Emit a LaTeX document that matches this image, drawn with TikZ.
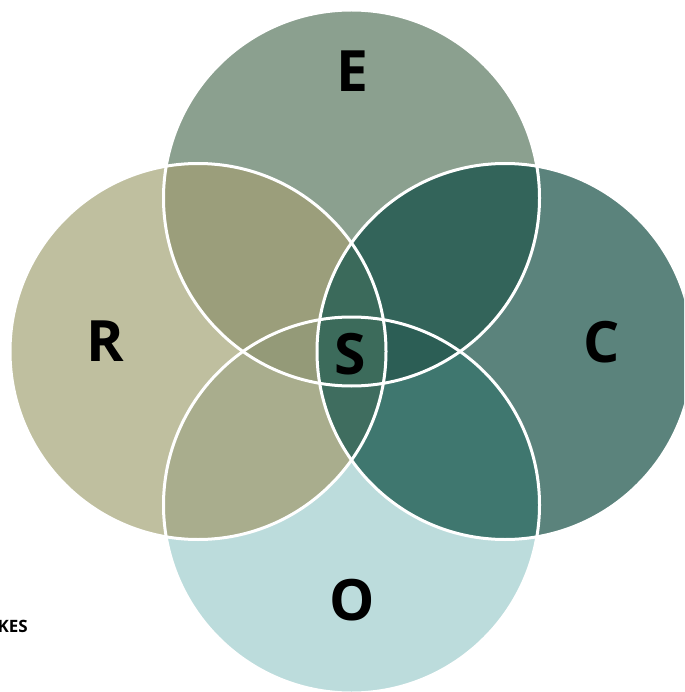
\documentclass[tikz,border=0pt]{standalone}
\usepackage{fontspec}
\setmainfont{Open Sans}
\definecolor{cE}{HTML}{8BA08F}
\definecolor{cR}{HTML}{BFBF9F}
\definecolor{cC}{HTML}{5B837C}
\definecolor{cO}{HTML}{BCDCDC}
\definecolor{cER}{HTML}{9B9E7B}
\definecolor{cEC}{HTML}{33645A}
\definecolor{cRO}{HTML}{A9AD8D}
\definecolor{cCO}{HTML}{3F776F}
\definecolor{cERC}{HTML}{3B6A5B}
\definecolor{cERO}{HTML}{949A78}
\definecolor{cECO}{HTML}{2C5E55}
\definecolor{cRCO}{HTML}{3F6D5F}
\definecolor{cAll}{HTML}{3C6B5B}
\def\pE{(351.5,198) circle (188pt)}
\def\pR{(198,351.5) circle (188pt)}
\def\pC{(505,351.5) circle (188pt)}
\def\pO{(351.5,505) circle (188pt)}
\tikzset{
  big/.style={font=\fontsize{57}{60}\selectfont\bfseries, text=black, inner sep=0pt},
  ring/.style={draw=white, line width=3pt}
}
\begin{document}
\begin{tikzpicture}[x=1pt,y=-1pt]
\useasboundingbox (0,0) rectangle (684,692);
\begin{scope}
\clip (0,0) rectangle (684,692);
\fill[cE] \pE;
\fill[cR] \pR;
\fill[cC] \pC;
\fill[cO] \pO;
\begin{scope}\clip \pE; \fill[cER] \pR; \end{scope}
\begin{scope}\clip \pE; \fill[cEC] \pC; \end{scope}
\begin{scope}\clip \pR; \fill[cRO] \pO; \end{scope}
\begin{scope}\clip \pC; \fill[cCO] \pO; \end{scope}
\begin{scope}\clip \pE; \clip \pR; \fill[cERC] \pC; \end{scope}
\begin{scope}\clip \pE; \clip \pR; \fill[cERO] \pO; \end{scope}
\begin{scope}\clip \pE; \clip \pC; \fill[cECO] \pO; \end{scope}
\begin{scope}\clip \pR; \clip \pC; \fill[cRCO] \pO; \end{scope}
\begin{scope}\clip \pE; \clip \pR; \clip \pC; \fill[cAll] \pO; \end{scope}
\draw[ring] \pE;
\draw[ring] \pR;
\draw[ring] \pC;
\draw[ring] \pO;
\end{scope}
\node[big] (E) at (352,71) {E};
\node[big] (R) at (105,341) {R};
\node[big] (C) at (602,342) {C};
\node[big] (O) at (352,600) {O};
\node[big] (S) at (350,354) {S};
\node[font=\fontsize{17}{19}\selectfont\bfseries, inner sep=0pt, anchor=east] (K) at (28,626) {KES};
\end{tikzpicture}
\end{document}
